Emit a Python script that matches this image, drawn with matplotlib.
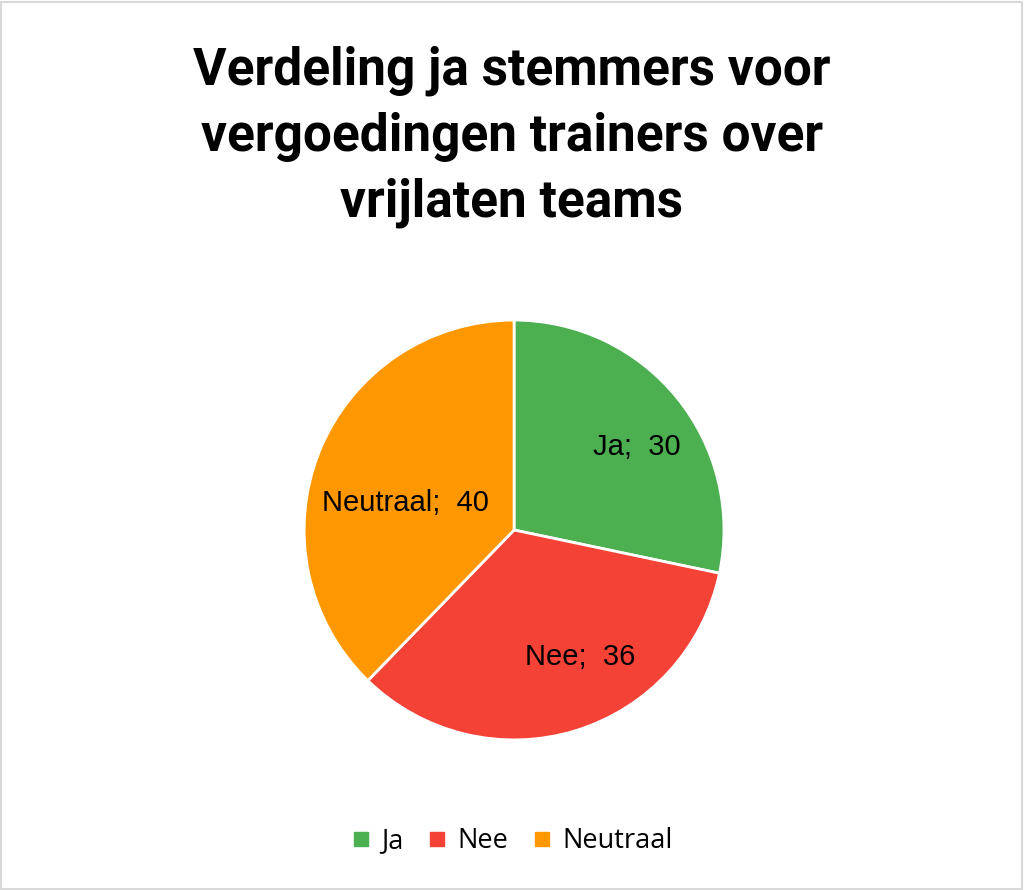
import matplotlib.pyplot as plt
from matplotlib.patches import Rectangle
import numpy as np

categories = ["Ja", "Nee", "Neutraal"]
values = [30, 36, 40]
colors = ["#4CAF50", "#F44336", "#FF9800"]
title = "Verdeling ja stemmers voor\nvergoedingen trainers over\nvrijlaten teams"

fig = plt.figure(figsize=(10.24, 8.9), dpi=100)
fig.patch.set_facecolor("white")
fig.patches.append(Rectangle((0.001, 0.001), 0.997, 0.997, transform=fig.transFigure,
                             fill=False, edgecolor="#D9D9D9", linewidth=1.5))

fig.text(0.5, 0.846, title, ha="center", va="center", fontsize=37, fontweight="bold",
         family=["Roboto", "DejaVu Sans"], linespacing=1.4)

ax = fig.add_axes([0.502 - 0.205, 0.4045 - 0.236, 0.41, 0.472])
wedges, _ = ax.pie(values, colors=colors, startangle=90, counterclock=False,
                   wedgeprops=dict(edgecolor="white", linewidth=2))
ax.set_xlim(-1, 1)
ax.set_ylim(-1, 1)
ax.set_aspect("equal")

# label radius / angle tweak per slice (Excel best fit look)
label_r = [0.705, 0.68, 0.535]
label_dang = [-5, 10.5, 8]
for w, cat, v, r, da in zip(wedges, categories, values, label_r, label_dang):
    ang = np.deg2rad((w.theta1 + w.theta2) / 2 + da)
    ax.text(r * np.cos(ang), r * np.sin(ang), f"{cat};  {v}", ha="center", va="center",
            fontsize=21, family="Liberation Sans", color="black")

handles = [plt.Line2D([], [], marker="s", linestyle="", markersize=10, color=c) for c in colors]
fig.legend(handles, categories, loc="center", bbox_to_anchor=(0.5, 1 - 841 / 890), ncol=3,
           frameon=False, handlelength=0.7, handletextpad=0.4, columnspacing=0.9,
           prop=dict(family="Open Sans", size=19.5))

fig.savefig("out.png", dpi=100)
